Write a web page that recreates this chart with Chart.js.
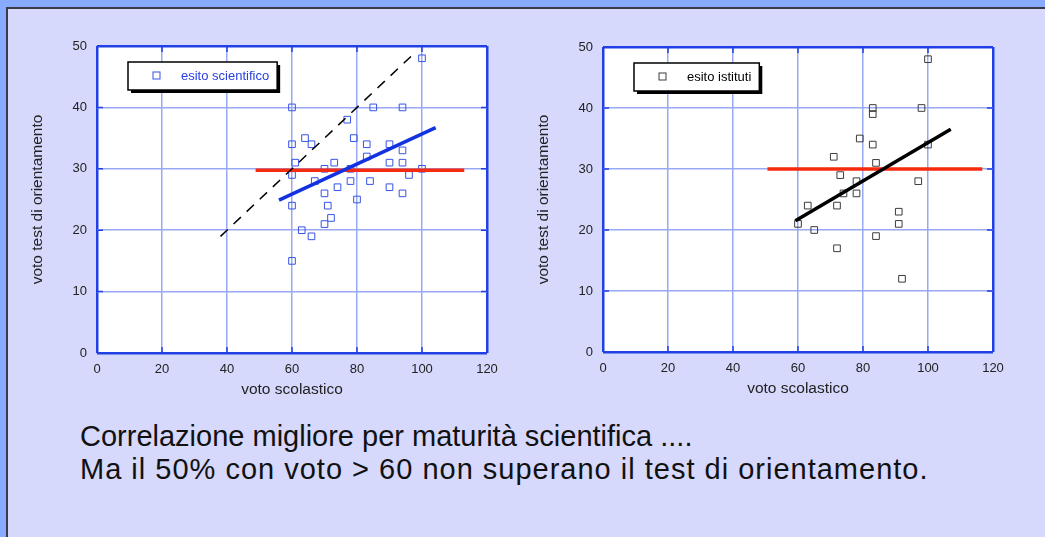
<!DOCTYPE html>
<html>
<head>
<meta charset="utf-8">
<script src="https://cdn.jsdelivr.net/npm/chart.js@4.4.1/dist/chart.umd.min.js"></script>
<style>
  html, body { margin: 0; padding: 0; }
  body {
    width: 1045px; height: 537px; overflow: hidden; position: relative;
    background: #88aaff;
    font-family: "Liberation Sans", Arial, Helvetica, sans-serif;
  }
  #frame {
    position: absolute; left: 6px; top: 7px; width: 1050px; height: 540px;
    background: #d6d8fc;
    border-left: 2px solid #3a3a48; border-top: 2px solid #3a3a48;
  }
  canvas { position: absolute; top: 0; }
  #chartL { left: 0; }
  #chartR { left: 506px; }
  #note {
    position: absolute; left: 80px; top: 420px;
    font-size: 29px; line-height: 33px; color: #111; white-space: nowrap;
  }
  #note .l2 { letter-spacing: 1px; }
</style>
</head>
<body>
<div id="frame"></div>
<canvas id="chartL" width="510" height="410"></canvas>
<canvas id="chartR" width="510" height="410"></canvas>
<div id="note">Correlazione migliore per maturità scientifica ....<br><span class="l2">Ma il 50% con voto &gt; 60 non superano il test di orientamento.</span></div>

<script>
// axis ticks
const xTicks = [0, 20, 40, 60, 80, 100, 120];
const yTicks = [0, 10, 20, 30, 40, 50];

// maturita' scientifica
const sciVoto = [100, 60, 85, 94, 77, 64, 79, 60, 66, 83, 90, 94, 83, 61, 73, 90, 94, 70, 78, 100,
                 60, 96, 67, 78, 84, 74, 90, 70, 94, 80, 60, 71, 72, 70, 63, 66, 60];
const sciTest = [48, 40, 40, 40, 38, 35, 35, 34, 34, 34, 34, 33, 32, 31, 31, 31, 31, 30, 30, 30,
                 29, 29, 28, 28, 28, 27, 27, 26, 26, 25, 24, 24, 22, 21, 20, 19, 15];
const sciFitX = [56, 104.2];
const sciFitY = [24.9, 36.7];
const sciMedX = [48.8, 113];
const sciMedY = [29.75, 29.75];
const diagX = [38, 97];
const diagY = [19, 48.5];

// istituti
const istVoto = [100, 83, 83, 98, 79, 83, 100, 71, 84, 73, 78, 97, 74, 78, 63, 72, 91, 60, 91, 65, 84, 72, 92];
const istTest = [48, 40, 39, 40, 35, 34, 34, 32, 31, 29, 28, 28, 26, 26, 24, 24, 23, 21, 21, 20, 19, 17, 12];
const istFitX = [59.2, 107];
const istFitY = [21.5, 36.5];
const istMedX = [50.6, 116.7];
const istMedY = [30, 30];

const edgeBlue = '#2140e6';
const gridBlue = '#98a8f4';
const FONT = '"Liberation Sans", Arial, Helvetica, sans-serif';

const pairs = (xs, ys) => xs.map((v, i) => ({ x: v, y: ys[i] }));

const plotBg = {
    id: 'plotBg',
    beforeDraw(chart) {
        const a = chart.chartArea;
        chart.ctx.save();
        chart.ctx.fillStyle = '#fff';
        chart.ctx.fillRect(a.left, a.top, a.right - a.left, a.bottom - a.top);
        chart.ctx.restore();
    }
};

// short dark ticks pointing inward from the frame
const innerTicks = {
    id: 'innerTicks',
    afterDatasetsDraw(chart) {
        const { ctx, chartArea: a, scales: { x, y } } = chart;
        ctx.save();
        ctx.strokeStyle = edgeBlue;
        ctx.lineWidth = 1.5;
        ctx.beginPath();
        xTicks.forEach(v => {
            const px = x.getPixelForValue(v);
            ctx.moveTo(px, a.bottom); ctx.lineTo(px, a.bottom - 6);
            ctx.moveTo(px, a.top); ctx.lineTo(px, a.top + 6);
        });
        yTicks.forEach(v => {
            const py = y.getPixelForValue(v);
            ctx.moveTo(a.left, py); ctx.lineTo(a.left + 6, py);
            ctx.moveTo(a.right, py); ctx.lineTo(a.right - 6, py);
        });
        ctx.stroke();
        ctx.restore();
    }
};

const legendBox = {
    id: 'legendBox',
    afterDraw(chart, args, opts) {
        const { ctx, chartArea: a } = chart;
        const ds = chart.data.datasets[0];
        ctx.save();
        ctx.font = '13px ' + FONT;
        const tw = ctx.measureText(ds.label).width;
        const bx = a.left + 31, by = a.top + 16, bh = 28;
        const bw = 84 - 31 + tw + 8;
        ctx.fillStyle = '#000';
        ctx.fillRect(bx + 3, by + 3, bw, bh);
        ctx.fillStyle = '#fff';
        ctx.fillRect(bx, by, bw, bh);
        ctx.strokeStyle = '#000';
        ctx.lineWidth = 1.5;
        ctx.strokeRect(bx, by, bw, bh);
        ctx.strokeStyle = ds.borderColor;
        ctx.lineWidth = 1;
        ctx.strokeRect(a.left + 56, a.top + 26, 7, 7);
        ctx.fillStyle = opts.textColor;
        ctx.textBaseline = 'middle';
        ctx.fillText(ds.label, a.left + 84, by + bh / 2 + 0.5);
        ctx.restore();
    }
};

function makeChart(id, datasets, textColor, padTop, padBottom) {
    const tickFont = { family: FONT, size: 13 };
    const titleFont = { family: FONT, size: 15.5 };
    return new Chart(document.getElementById(id), {
        type: 'scatter',
        data: { datasets: datasets },
        options: {
            responsive: false,
            animation: false,
            devicePixelRatio: 1,
            layout: { padding: { left: 0, top: padTop, right: 23, bottom: padBottom } },
            plugins: {
                legend: { display: false },
                tooltip: { enabled: false },
                legendBox: { textColor: textColor }
            },
            scales: {
                x: {
                    type: 'linear', min: 0, max: 120,
                    afterBuildTicks: s => { s.ticks = xTicks.map(v => ({ value: v })); },
                    afterFit: s => { s.height = 50; },
                    ticks: { font: tickFont, color: '#222', padding: 9, maxRotation: 0 },
                    grid: {
                        drawTicks: false,
                        color: c => (c.tick && (c.tick.value === 0 || c.tick.value === 120)) ? edgeBlue : gridBlue,
                        lineWidth: c => (c.tick && (c.tick.value === 0 || c.tick.value === 120)) ? 2.5 : 1.5
                    },
                    border: { display: false },
                    title: { display: true, text: 'voto scolastico', font: titleFont, color: '#222', padding: { top: 0, bottom: 4 } }
                },
                y: {
                    type: 'linear', min: 0, max: 50,
                    afterBuildTicks: s => { s.ticks = yTicks.map(v => ({ value: v })); },
                    afterFit: s => { s.width = 97; },
                    ticks: { font: tickFont, color: '#222', padding: 10 },
                    grid: {
                        drawTicks: false,
                        color: c => (c.tick && (c.tick.value === 0 || c.tick.value === 50)) ? edgeBlue : gridBlue,
                        lineWidth: c => (c.tick && (c.tick.value === 0 || c.tick.value === 50)) ? 2.5 : 1.5
                    },
                    border: { display: false },
                    title: { display: true, text: 'voto test di orientamento', font: titleFont, color: '#222', padding: { top: 28, bottom: 0 } }
                }
            }
        },
        plugins: [plotBg, innerTicks, legendBox]
    });
}

function pointSet(label, xs, ys, color) {
    return {
        label: label,
        data: pairs(xs, ys),
        pointStyle: 'rect',
        pointRadius: 4.7,
        borderWidth: 1,
        borderColor: color,
        backgroundColor: 'rgba(0,0,0,0)',
        showLine: false,
        order: 5
    };
}

function lineSet(xs, ys, color, width, dash) {
    return {
        label: '',
        data: pairs(xs, ys),
        showLine: true,
        pointRadius: 0,
        borderColor: color,
        borderWidth: width,
        borderDash: dash || [],
        borderCapStyle: 'butt',
        fill: false,
        order: 1
    };
}

makeChart('chartL', [
    pointSet('esito scientifico', sciVoto, sciTest, '#3653e6'),
    lineSet(diagX, diagY, '#000', 1.5, [10, 8]),
    lineSet(sciFitX, sciFitY, '#1232e2', 3.5),
    lineSet(sciMedX, sciMedY, '#f52a0e', 3.5)
], '#2a40e0', 46, 7);

makeChart('chartR', [
    pointSet('esito istituti', istVoto, istTest, '#3c3c3c'),
    lineSet(istFitX, istFitY, '#000', 3.5),
    lineSet(istMedX, istMedY, '#f52a0e', 3.5)
], '#000', 47, 8);
</script>
</body>
</html>
